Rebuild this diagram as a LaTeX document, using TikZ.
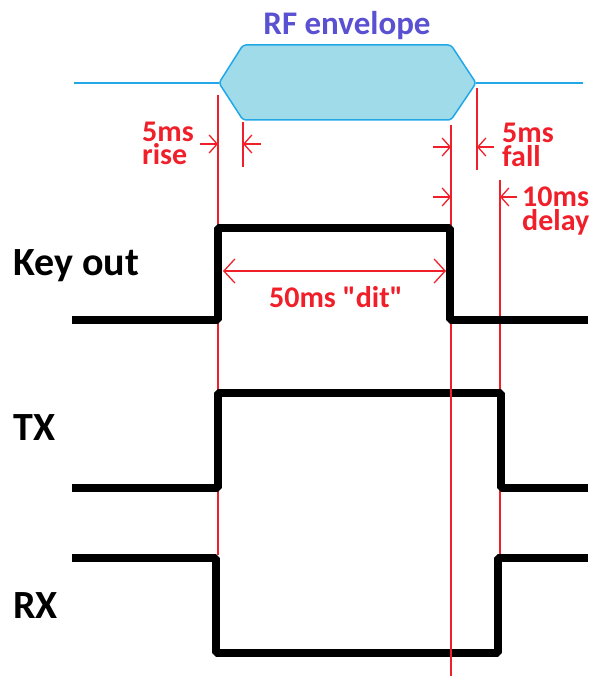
\documentclass[tikz,border=0pt]{standalone}
\usepackage{fontspec}
\setmainfont{Carlito}[Ligatures=TeXOff]
\usetikzlibrary{arrows.meta}
\definecolor{rfblue}{HTML}{22A8E6}
\definecolor{rffill}{HTML}{A0DBEA}
\definecolor{rftext}{HTML}{5A50D2}
\definecolor{myred}{HTML}{F0202A}
\begin{document}
\begin{tikzpicture}[x=1pt,y=-1pt,
  wave/.style={line width=8.5pt,line join=bevel},
  redline/.style={draw=myred,line width=1.3pt},
  dimarrow/.style={draw=myred,line width=1.3pt,-{Straight Barb[length=8pt,width=18pt,line width=1.3pt]}},
  dimboth/.style={draw=myred,line width=1.3pt,{Straight Barb[length=11pt,width=24pt,line width=1.3pt]}-{Straight Barb[length=11pt,width=24pt,line width=1.3pt]}},
  lbl/.style={font=\fontsize{40}{46}\selectfont\bfseries,anchor=base west,inner sep=0pt},
  redtxt/.style={text=myred,font=\fontsize{30}{34}\selectfont\bfseries,anchor=base west,inner sep=0pt},
  second/.style={text height=14pt},
]
\useasboundingbox (0,0) rectangle (595,676);
% RF envelope
\coordinate (bl) at (74,83);
\coordinate (br) at (583,83);
\coordinate (el) at (219,83);
\coordinate (er) at (476,83);
\draw[rfblue,line width=1.5pt] (bl) -- (el) (er) -- (br);
\draw[rfblue,fill=rffill,line width=1.5pt,rounded corners=3pt]
  (el) -- (243,45) -- (451,45) -- (er) -- (451,120) -- (243,120) -- cycle;
\node[text=rftext,font=\fontsize{33}{38}\selectfont\bfseries,anchor=base,inner sep=0pt] (rf) at (347,35) {RF envelope};

% red reference lines (behind waveforms)
\coordinate (l1a) at (218,95);   \coordinate (l1b) at (218,555);
\coordinate (l2a) at (243,122);  \coordinate (l2b) at (243,167);
\coordinate (l3a) at (451,125);  \coordinate (l3b) at (451,676);
\coordinate (l4a) at (477,88);   \coordinate (l4b) at (477,170);
\coordinate (l5a) at (500,180);  \coordinate (l5b) at (500,555);
\draw[redline] (l1a) -- (l1b);
\draw[redline] (l2a) -- (l2b);
\draw[redline] (l3a) -- (l3b);
\draw[redline] (l4a) -- (l4b);
\draw[redline] (l5a) -- (l5b);

% waveforms
\draw[wave] (72,320) -- (218,320) -- (218,228) -- (450,228) -- (450,320) -- (588,320);
\draw[wave] (72,488) -- (218,488) -- (218,393) -- (501,393) -- (501,488) -- (588,488);
\draw[wave] (72,558) -- (216,558) -- (216,653) -- (498,653) -- (498,558) -- (588,558);

% red line over TX and RX
\coordinate (l3c) at (451,326);
\draw[redline] (l3c) -- (l3b);

% dimension arrows
\coordinate (r1) at (200,144); \coordinate (r1t) at (218,144);
\coordinate (r2) at (261,144); \coordinate (r2t) at (243,144);
\draw[dimarrow] (r1) -- (r1t);
\draw[dimarrow] (r2) -- (r2t);
\coordinate (f1) at (433,147); \coordinate (f1t) at (451,147);
\coordinate (f2) at (494,147); \coordinate (f2t) at (477,147);
\draw[dimarrow] (f1) -- (f1t);
\draw[dimarrow] (f2) -- (f2t);
\coordinate (d1) at (433,197); \coordinate (d1t) at (451,197);
\coordinate (d2) at (517,197); \coordinate (d2t) at (500,197);
\draw[dimarrow] (d1) -- (d1t);
\draw[dimarrow] (d2) -- (d2t);
\coordinate (dita) at (223,271); \coordinate (ditb) at (446,271);
\draw[dimboth] (dita) -- (ditb);

% red labels
\node[redtxt] (rise1) at (142,142) {5ms};
\node[redtxt,second] (rise2) at (142,165) {rise};
\node[redtxt] (fall1) at (502,143) {5ms};
\node[redtxt,second] (fall2) at (502,167) {fall};
\node[redtxt] (del1) at (522,207) {10ms};
\node[redtxt,second] (del2) at (522,230) {delay};
\node[redtxt,anchor=base] (dit) at (336,307) {50ms "dit"};

% signal labels
\node[lbl] (key) at (13,275) {Key out};
\node[lbl] (tx) at (13,440) {TX};
\node[lbl] (rx) at (13,618) {RX};
\end{tikzpicture}
\end{document}
